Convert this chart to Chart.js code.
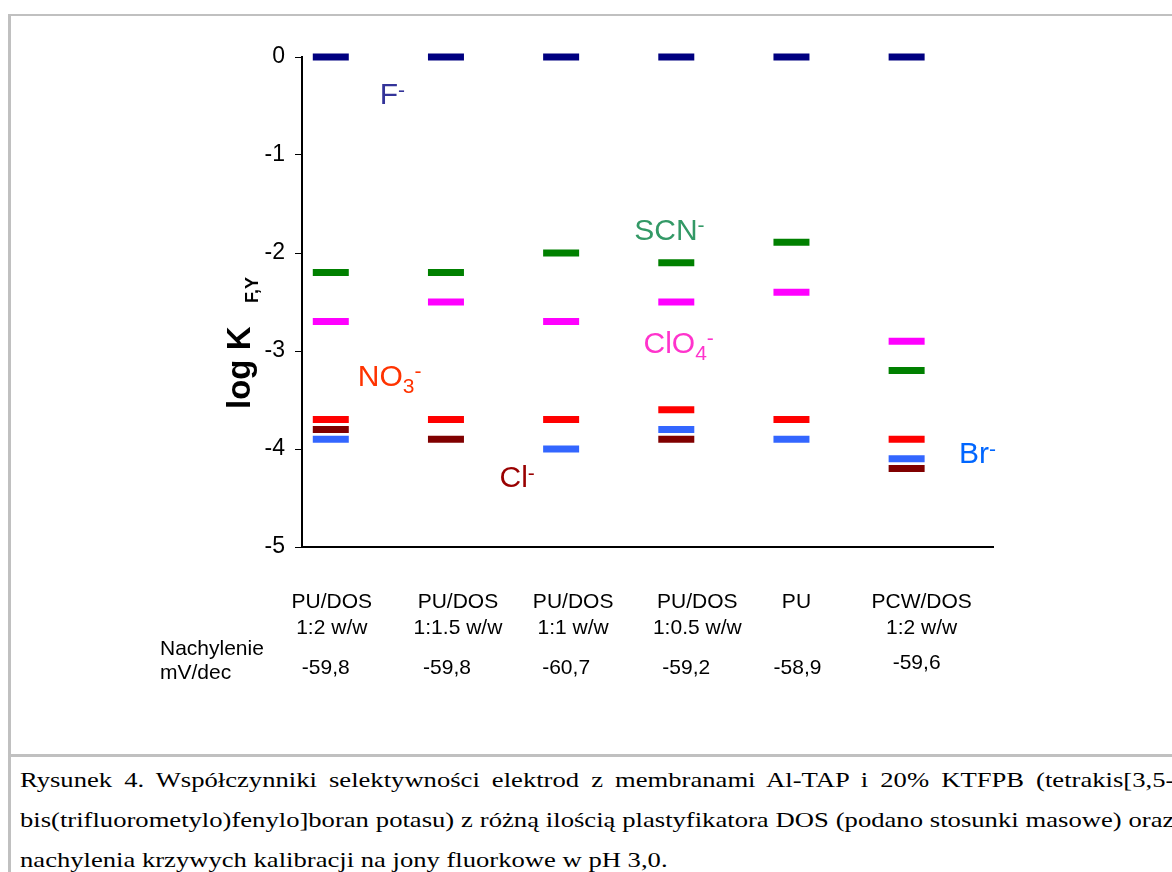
<!DOCTYPE html>
<html>
<head>
<meta charset="utf-8">
<script src="https://cdn.jsdelivr.net/npm/chart.js@4.4.1/dist/chart.umd.min.js"></script>
<style>
  html, body { margin: 0; padding: 0; background: #fff; width: 1172px; height: 872px; overflow: hidden; }
  #frame { position: absolute; left: 8px; top: 14px; width: 1200px; height: 900px;
           border-left: 3px solid #c0c0c0; border-top: 2px solid #c0c0c0; }
  #sep { position: absolute; left: 8px; top: 754px; width: 1200px; height: 3px; background: #c0c0c0; }
  #wrap { position: absolute; left: 0; top: 0; width: 1172px; height: 754px; }
  #caption { position: absolute; left: 20px; top: 760px; width: 954px; color: #000;
             font: 22px "Liberation Serif", "Times New Roman", serif; line-height: 40px;
             transform: scaleX(1.21); transform-origin: 0 0; }
  #caption span { display: block; white-space: nowrap; }
  #caption .j { white-space: normal; text-align: justify; text-align-last: justify; }
</style>
</head>
<body>
<div id="frame"></div>
<div id="sep"></div>
<div id="wrap"><canvas id="chart"></canvas></div>
<div id="caption">
  <span class="j">Rysunek 4. Współczynniki selektywności elektrod z membranami Al-TAP i 20% KTFPB (tetrakis[3,5-</span>
  <span class="j">bis(trifluorometylo)fenylo]boran potasu) z różną ilością plastyfikatora DOS (podano stosunki masowe) oraz</span>
  <span>nachylenia krzywych kalibracji na jony fluorkowe w pH 3,0.</span>
</div>
<script>
// membranes (two text lines each) and the electrode slopes under them
const categoryLines = [
  ['PU/DOS', '1:2 w/w'],
  ['PU/DOS', '1:1.5 w/w'],
  ['PU/DOS', '1:1 w/w'],
  ['PU/DOS', '1:0.5 w/w'],
  ['PU', ''],
  ['PCW/DOS', '1:2 w/w']
];
const slopes = ['-59,8', '-59,8', '-60,7', '-59,2', '-58,9', '-59,6'];
const slopeTitle = ['Nachylenie', 'mV/dec'];

// log K(F,Y) for each interfering ion, one value per membrane
const valuesF    = [0, 0, 0, 0, 0, 0];
const valuesSCN  = [-2.2, -2.2, -2.0, -2.1, -1.89, -3.2];
const valuesClO4 = [-2.7, -2.5, -2.7, -2.5, -2.4, -2.9];
const valuesNO3  = [-3.7, -3.7, -3.7, -3.6, -3.7, -3.9];
const valuesCl   = [-3.8, -3.9, null, -3.9, null, -4.2];
const valuesBr   = [-3.9, null, -4.0, -3.8, -3.9, -4.1];

const yMin = -5, yMax = 0, yStep = 1;

// ion name parts: n = normal, sub = subscript, sup = superscript
const series = [
  { values: valuesF,    mark: '#000080', text: '#333399', parts: [['F', 'n'], ['-', 'sup']],                  at: [0.425, -0.48] },
  { values: valuesSCN,  mark: '#008000', text: '#339966', parts: [['SCN', 'n'], ['-', 'sup']],                at: [2.635, -1.867] },
  { values: valuesClO4, mark: '#ff00ff', text: '#ff33cc', parts: [['ClO', 'n'], ['4', 'sub'], ['-', 'sup']],  at: [2.715, -3.02] },
  { values: valuesNO3,  mark: '#ff0000', text: '#ff3300', parts: [['NO', 'n'], ['3', 'sub'], ['-', 'sup']],   at: [0.234, -3.357] },
  { values: valuesCl,   mark: '#800000', text: '#990000', parts: [['Cl', 'n'], ['-', 'sup']],                 at: [1.465, -4.388] },
  { values: valuesBr,   mark: '#3366ff', text: '#0066ff', parts: [['Br', 'n'], ['-', 'sup']],                 at: [5.455, -4.143] }
];

// small pixel nudges of the text boxes under the axis
const labelDx = [1, 12, 12, 21, 5, 15];
const slopeDx = [-5, 1, 5, 10, 6, 10];
const slopeDy = [0, 0, 0, 0, 0, -5];

const SANS = "'Liberation Sans', Arial, sans-serif";

function drawIon(ctx, x, y, parts, color) {
  ctx.fillStyle = color;
  ctx.textAlign = 'left';
  ctx.textBaseline = 'alphabetic';
  let cx = x;
  parts.forEach(([t, kind]) => {
    let dy = 0;
    if (kind === 'n') ctx.font = '30px ' + SANS;
    else { ctx.font = '21px ' + SANS; dy = kind === 'sub' ? 7 : -7.5; }
    ctx.fillText(t, cx, y + dy);
    cx += ctx.measureText(t).width;
  });
}

const textPlugin = {
  id: 'texts',
  afterDraw(chart) {
    const { ctx, chartArea, scales } = chart;
    const xs = scales.x, ys = scales.y;
    ctx.save();

    // y axis title: log K with subscript F,Y
    ctx.save();
    ctx.translate(chartArea.left - 52, 409);
    ctx.rotate(-Math.PI / 2);
    ctx.fillStyle = '#000';
    ctx.textBaseline = 'alphabetic';
    ctx.textAlign = 'left';
    ctx.font = 'bold 33px ' + SANS;
    ctx.fillText('log K', 0, 0);
    ctx.font = 'bold 18px ' + SANS;
    ctx.fillText('F,Y', 106, 8);
    ctx.restore();

    // membranes
    ctx.fillStyle = '#000';
    ctx.textAlign = 'center';
    ctx.textBaseline = 'alphabetic';
    ctx.font = '21px ' + SANS;
    const b = chartArea.bottom;
    categoryLines.forEach((lines, i) => {
      const cx = xs.getPixelForValue(i) + labelDx[i];
      ctx.fillText(lines[0], cx, b + 61);
      ctx.fillText(lines[1], cx, b + 87);
    });
    slopes.forEach((s, i) => {
      ctx.fillText(s, xs.getPixelForValue(i) + slopeDx[i], b + 127 + slopeDy[i]);
    });
    ctx.textAlign = 'left';
    ctx.fillText(slopeTitle[0], 160, b + 108);
    ctx.fillText(slopeTitle[1], 160, b + 132);

    // ion names
    series.forEach(s => {
      drawIon(ctx, xs.getPixelForValue(s.at[0]), ys.getPixelForValue(s.at[1]), s.parts, s.text);
    });
    ctx.restore();
  }
};

new Chart(document.getElementById('chart'), {
  type: 'scatter',
  data: {
    datasets: series.map(s => ({
      data: s.values.map((v, i) => ({ x: i, y: v })).filter(p => p.y !== null),
      pointStyle: 'line',
      radius: 18,
      hoverRadius: 18,
      borderWidth: 7,
      hoverBorderWidth: 7,
      borderColor: s.mark,
      backgroundColor: s.mark,
      clip: false
    }))
  },
  options: {
    responsive: true,
    maintainAspectRatio: false,
    animation: false,
    events: [],
    layout: { padding: { top: 57, right: 179, left: 0, bottom: 0 } },
    plugins: { legend: { display: false }, tooltip: { enabled: false } },
    scales: {
      x: {
        type: 'linear',
        min: -0.25,
        max: 5.75,
        ticks: { display: false },
        grid: { display: false },
        border: { display: true, color: '#000', width: 2 },
        afterFit: s => { s.height = 207; }
      },
      y: {
        min: yMin,
        max: yMax,
        ticks: { stepSize: yStep, color: '#000', padding: 10, font: { family: SANS, size: 23 } },
        grid: { drawOnChartArea: false, drawTicks: true, tickLength: 7, color: '#000', lineWidth: 1 },
        border: { display: true, color: '#000', width: 2 },
        afterFit: s => { s.width = 302; }
      }
    }
  },
  plugins: [textPlugin]
});
</script>
</body>
</html>
